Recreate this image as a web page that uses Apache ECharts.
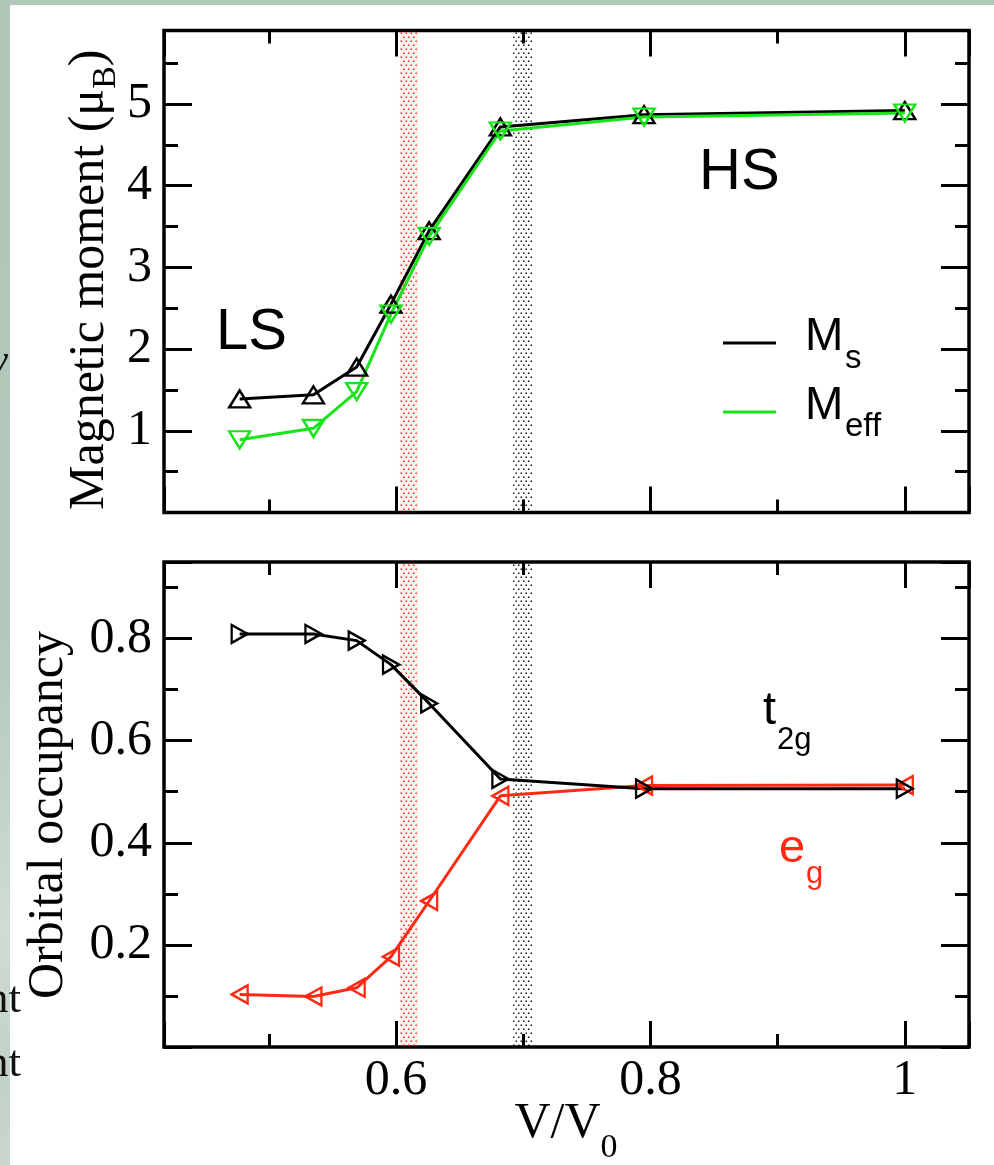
<!DOCTYPE html>
<html>
<head>
<meta charset="utf-8">
<script src="https://cdn.jsdelivr.net/npm/echarts@6/dist/echarts.min.js"></script>
<style>
  html, body { margin: 0; padding: 0; background: #fff; }
  #chart { width: 994px; height: 1165px; }
</style>
</head>
<body>
<div id="chart"></div>
<script>
// Volume ratio V/V0 of each calculated point
const volume = [0.477, 0.535, 0.569, 0.596, 0.626, 0.682, 0.795, 1.0];
// Magnetic moments (mu_B)
const momentMs = [1.39, 1.44, 1.78, 2.55, 3.45, 4.72, 4.87, 4.92];
const momentMeff = [0.89, 1.03, 1.48, 2.43, 3.38, 4.67, 4.84, 4.89];
// Orbital occupancies
const occT2g = [0.809, 0.809, 0.796, 0.749, 0.673, 0.525, 0.506, 0.506];
const occEg = [0.103, 0.099, 0.116, 0.177, 0.286, 0.492, 0.512, 0.513];
// Transition regions (V/V0 ranges)
const bandRed = [0.603, 0.617];
const bandBlack = [0.692, 0.707];
// Axis ranges
const xRange = [0.4175, 1.0505];
const momentRange = [0, 5.9];
const occRange = [0, 0.95];

const SERIF = '"Liberation Serif", "Times New Roman", serif';
const SANS = '"Liberation Sans", Arial, sans-serif';
const RED = '#ff2a14';
const GREEN = '#18e418';

const pairs = (xs, ys) => xs.map((x, i) => [x, ys[i]]);

// staggered dot fill for the transition bands
function dotPattern(color, tint) {
  const c = document.createElement('canvas');
  c.width = 5; c.height = 8;
  const g = c.getContext('2d');
  if (tint) { g.fillStyle = tint; g.fillRect(0, 0, 5, 8); }
  g.fillStyle = color;
  g.fillRect(0.5, 0.5, 1.5, 1.5);
  g.fillRect(3, 4.5, 1.5, 1.5);
  return { image: c, repeat: 'repeat' };
}
const redDots = dotPattern('rgba(255,30,10,0.95)', 'rgba(255,80,60,0.07)');
const blackDots = dotPattern('rgba(0,0,0,0.9)', null);

const tickStyle = { color: '#000', width: 3 };

function xAxisDef(gridIndex, position, showLabels) {
  return {
    type: 'value', gridIndex, position,
    min: xRange[0], max: xRange[1], splitNumber: 3,
    axisLine: { show: false, onZero: false },
    splitLine: { show: false },
    axisTick: { show: true, inside: true, length: 26, lineStyle: tickStyle },
    minorTick: { show: true, splitNumber: 2, length: 13, lineStyle: tickStyle },
    axisLabel: {
      show: showLabels, margin: 9, color: '#000', fontFamily: SERIF, fontSize: 50,
      showMinLabel: false, showMaxLabel: false,
      formatter: v => (Math.abs(v * 5 - Math.round(v * 5)) < 1e-6 ? String(Math.round(v * 10) / 10) : '')
    }
  };
}

function yAxisDef(gridIndex, position, range, interval, showLabels, fmt) {
  return {
    type: 'value', gridIndex, position,
    min: range[0], max: range[1], interval,
    axisLine: { show: false, onZero: false },
    splitLine: { show: false },
    axisTick: { show: true, inside: true, length: 28, lineStyle: tickStyle },
    minorTick: { show: true, splitNumber: 2, length: 14, lineStyle: tickStyle },
    axisLabel: {
      show: showLabels, margin: 12, color: '#000', fontFamily: SERIF, fontSize: 50,
      showMinLabel: false, showMaxLabel: false, formatter: fmt
    }
  };
}

function bandArea(pattern, range) {
  return [{ xAxis: range[0], itemStyle: { color: pattern } }, { xAxis: range[1] }];
}

function lineSeries(name, xi, yi, data, color, rotate, size, extra) {
  return Object.assign({
    name, type: 'line', xAxisIndex: xi, yAxisIndex: yi,
    data, symbol: 'triangle', symbolSize: size, symbolRotate: rotate,
    lineStyle: { color, width: 3 },
    itemStyle: { color: 'rgba(255,255,255,0)', borderColor: color, borderWidth: 2.4 },
    emphasis: { disabled: true }, silent: true, animation: false
  }, extra || {});
}

function txt(text, x, y, font, fill, opts) {
  return Object.assign({
    type: 'text', x, y, silent: true,
    style: Object.assign({ text, font, fill, align: 'left', verticalAlign: 'middle' }, opts && opts.style)
  }, opts && opts.el);
}

// width helper for placing subscripts after their base text
const measureCtx = document.createElement('canvas').getContext('2d');
function textWidth(text, font) { measureCtx.font = font; return measureCtx.measureText(text).width; }

const chart = echarts.init(document.getElementById('chart'), null, { renderer: 'canvas' });

const titleFont = '50px ' + SERIF;
const titleSubFont = '34px ' + SERIF;
const magMain = 'Magnetic moment (\u03bc';
const magMainW = textWidth(magMain, titleFont);
const magSubW = textWidth('B', titleSubFont);
const magStartY = 510;
const rot = Math.PI / 2;

const vMain = 'V/V';
const vMainW = textWidth(vMain, titleFont);
const vSubW = textWidth('0', titleSubFont);
const vStartX = 566 - (vMainW + vSubW) / 2;

const option = {
  backgroundColor: '#fff',
  animation: false,
  grid: [
    { left: 164, top: 30.5, width: 805, height: 482, show: true, borderColor: '#000', borderWidth: 3.5, backgroundColor: 'transparent' },
    { left: 164, top: 562, width: 805, height: 485, show: true, borderColor: '#000', borderWidth: 3.5, backgroundColor: 'transparent' }
  ],
  xAxis: [
    xAxisDef(0, 'bottom', false),
    xAxisDef(0, 'top', false),
    xAxisDef(1, 'bottom', true),
    xAxisDef(1, 'top', false)
  ],
  yAxis: [
    yAxisDef(0, 'left', momentRange, 1, true, v => (v >= 1 && Math.abs(v - Math.round(v)) < 1e-6 ? String(Math.round(v)) : '')),
    yAxisDef(0, 'right', momentRange, 1, false),
    yAxisDef(1, 'left', occRange, 0.2, true, v => (v > 0.1 && Math.abs(v * 5 - Math.round(v * 5)) < 1e-6 ? v.toFixed(1) : '')),
    yAxisDef(1, 'right', occRange, 0.2, false)
  ],
  series: [
    lineSeries('Ms', 0, 0, pairs(volume, momentMs), '#000', 0, [21, 17], {
      markArea: { silent: true, data: [bandArea(redDots, bandRed), bandArea(blackDots, bandBlack)] }
    }),
    lineSeries('Meff', 0, 0, pairs(volume, momentMeff), GREEN, 180, [21, 17]),
    lineSeries('eg', 2, 2, pairs(volume, occEg), RED, 90, [18, 16], {
      markArea: { silent: true, data: [bandArea(redDots, bandRed), bandArea(blackDots, bandBlack)] }
    }),
    lineSeries('t2g', 2, 2, pairs(volume, occT2g), '#000', -90, [18, 16])
  ],
  graphic: [
    // slide margin strips
    { type: 'rect', silent: true, shape: { x: 0, y: 0, width: 994, height: 5 }, style: { fill: '#b0c8b8' } },
    { type: 'rect', silent: true, shape: { x: 0, y: 0, width: 10, height: 1165 },
      style: { fill: new echarts.graphic.LinearGradient(0, 0, 0, 1, [
        { offset: 0, color: '#afc7b7' }, { offset: 0.55, color: '#b3c9bb' },
        { offset: 0.8, color: '#cfdcd3' }, { offset: 0.92, color: '#c2d1c6' }, { offset: 1, color: '#c9d6cc' }]) } },
    txt('y', 8, 362, 'italic 40px ' + SERIF, '#111', { style: { align: 'right' } }),
    txt('nt', -14, 1000, '45px ' + SERIF, '#111'),
    txt('nt', -14, 1064, '45px ' + SERIF, '#111'),

    // axis titles
    txt(magMain, 90, magStartY, titleFont, '#000', { el: { rotation: rot } }),
    txt('B', 106, magStartY - magMainW, titleSubFont, '#000', { el: { rotation: rot } }),
    txt(')', 90, magStartY - magMainW - magSubW, titleFont, '#000', { el: { rotation: rot } }),
    txt('Orbital occupancy', 49, 999, titleFont, '#000', { el: { rotation: rot } }),
    txt(vMain, vStartX, 1124, titleFont, '#000'),
    txt('0', vStartX + vMainW, 1148, titleSubFont, '#000'),

    // panel annotations
    txt('LS', 216, 333, '58px ' + SANS, '#000'),
    txt('HS', 699, 173, '58px ' + SANS, '#000'),
    { type: 'line', silent: true, shape: { x1: 723, y1: 343, x2: 776, y2: 343 }, style: { stroke: '#000', lineWidth: 3 } },
    { type: 'line', silent: true, shape: { x1: 723, y1: 412, x2: 776, y2: 412 }, style: { stroke: GREEN, lineWidth: 3 } },
    txt('M', 805, 337, '46px ' + SANS, '#000'),
    txt('s', 845, 359, '33px ' + SANS, '#000'),
    txt('M', 805, 406, '46px ' + SANS, '#000'),
    txt('eff', 845, 427, '33px ' + SANS, '#000'),
    txt('t', 763, 711, '47px ' + SANS, '#000'),
    txt('2g', 777, 740, '31px ' + SANS, '#000'),
    txt('e', 779, 849, '47px ' + SANS, RED),
    txt('g', 806, 874, '31px ' + SANS, RED)
  ]
};
chart.setOption(option);
</script>
</body>
</html>
